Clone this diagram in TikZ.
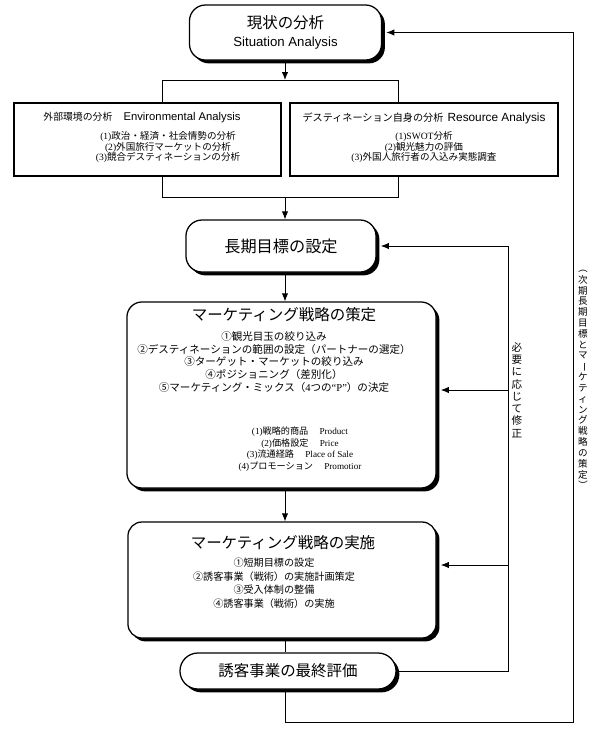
\documentclass[tikz,border=0pt]{standalone}
\usepackage{fontspec}
\setmainfont{Liberation Serif}
\setsansfont{Liberation Sans}
\newfontfamily\jp{Noto Sans CJK JP}
\usetikzlibrary{arrows.meta,shadows}

\newcommand{\fsz}[2]{\fontsize{#1}{#2}\selectfont}
\newcommand{\vrot}[1]{\rotatebox[origin=c]{-90}{#1}}

\begin{document}
\begin{tikzpicture}[
  x=0.025cm, y=-0.025cm,
  line width=0.6pt,
  stage/.style={rectangle,draw,line width=0.9pt,fill=white,font=\jp,align=center,
    drop shadow={shadow xshift=2.4pt,shadow yshift=-2.4pt,opacity=1,fill=black}},
  plainbox/.style={rectangle,draw,line width=0.8pt,fill=white},
  txt/.style={font=\jp,align=center,inner sep=0pt},
  arr/.style={-{Latex[length=2mm,width=1.6mm]}}
]
\useasboundingbox (0,0) rectangle (600,733);

% stages
\node[stage,rounded corners=0.4cm,minimum width=4.8cm,minimum height=1.375cm] (sit) at (285.5,32.5)
  {{\fsz{11}{12}現状の分析}\\[1pt]{\sffamily\fsz{9.4}{11}Situation Analysis}};
\node[plainbox,minimum width=6.675cm,minimum height=1.825cm] (envL) at (147.5,139.5) {};
\node[plainbox,minimum width=6.7cm,minimum height=1.825cm] (envR) at (424,139.5) {};
\node[stage,rounded corners=0.4cm,minimum width=4.75cm,minimum height=1.3cm] (goal) at (281,246)
  {\fsz{11.5}{13}長期目標の設定};
\node[stage,rounded corners=0.375cm,minimum width=7.725cm,minimum height=4.65cm] (plan) at (281.5,395) {};
\node[stage,rounded corners=0.35cm,minimum width=7.7cm,minimum height=2.9cm] (impl) at (282,580) {};
\node[stage,rounded corners=0.45cm,minimum width=5.4cm,minimum height=0.9cm] (eval) at (288,671)
  {\fsz{11}{12}誘客事業の最終評価};

% texts
\node[txt] (envLT) at (142,118) {{\fsz{7}{8}外部環境の分析}\hspace{8pt}{\sffamily\fsz{8}{9}Environmental Analysis}};
\node[txt,font=\jp\fsz{6.8}{7.4}] (envLA) at (168,147)
  {\textrm{(1)}政治・経済・社会情勢の分析\\\textrm{(2)}外国旅行マーケットの分析\\\textrm{(3)}競合デスティネーションの分析};
\node[txt] (envRT) at (424,118) {{\fsz{7.2}{8}デスティネーション自身の分析}\hspace{3pt}{\sffamily\fsz{8.4}{9}Resource Analysis}};
\node[txt,font=\jp\fsz{6.8}{7.4}] (envRA) at (424,147)
  {\textrm{(1)SWOT}分析\\\textrm{(2)}観光魅力の評価\\\textrm{(3)}外国人旅行者の入込み実態調査};

\node[txt,font=\jp\fsz{11}{13}] (planT) at (284,315) {マーケティング戦略の策定};
\node[txt,font=\jp\fsz{7.5}{9}] (planA) at (274,362)
  {①観光目玉の絞り込み\\②デスティネーションの範囲の設定（パートナーの選定）\\③ターゲット・マーケットの絞り込み\\
   ④ポジショニング（差別化）\\⑤マーケティング・ミックス（\textrm{4}つの\textrm{“P”}）の決定};
\node[txt,font=\jp\fsz{6.5}{8.3}] (planB) at (300,449)
  {\textrm{(1)}戦略的商品\hspace{8pt}\textrm{Product}\\\textrm{(2)}価格設定\hspace{8pt}\textrm{Price}\\
   \textrm{(3)}流通経路\hspace{8pt}\textrm{Place of Sale}\\\textrm{(4)}プロモーション\hspace{8pt}\textrm{Promotior}};

\node[txt,font=\jp\fsz{11}{13}] (implT) at (283,543) {マーケティング戦略の実施};
\node[txt,font=\jp\fsz{7.2}{9.6}] (implA) at (274,583)
  {①短期目標の設定\\②誘客事業（戦術）の実施計画策定\\③受入体制の整備\\④誘客事業（戦術）の実施};

\node[txt,font=\jp\fsz{7.5}{8.7}] (fixT) at (517,390) {必\\要\\に\\応\\じ\\て\\修\\正};
\node[txt,font=\jp\fsz{6.8}{7.7}] (nextT) at (583,377)
  {\vrot{（}\\次\\期\\長\\期\\目\\標\\と\\マ\\\vrot{ー}\\ケ\\テ\\ィ\\ン\\グ\\戦\\略\\の\\策\\定\\\vrot{）}};

% connectors
\coordinate (split) at (285,80);
\coordinate (splitL) at (162,80);
\coordinate (splitR) at (398,80);
\coordinate (join) at (285,197);
\coordinate (joinL) at (162,197);
\coordinate (joinR) at (398,197);
\coordinate (fixB) at (508,677);
\coordinate (fixP) at (508,390);
\coordinate (fixI) at (508,565);
\coordinate (nextB) at (573,722);

\draw[arr] (split |- sit.south) -- (split);
\draw (splitL |- envL.north) -- (splitL) -- (splitR) -- (splitR |- envR.north);
\draw (joinL |- envL.south) -- (joinL) -- (joinR) -- (joinR |- envR.south);
\draw[arr] (join) -- (join |- goal.north);
\draw[arr] (join |- goal.south) -- (join |- plan.north);
\draw[arr] (join |- plan.south) -- (join |- impl.north);
\draw (join |- impl.south) -- (join |- eval.north);
\draw[arr,shorten >=3pt] (eval.east) -- (eval.east -| fixB) |- (goal.east);
\draw[arr,shorten >=3pt] (fixP) -- (fixP -| plan.east);
\draw[arr,shorten >=3pt] (fixI) -- (fixI -| impl.east);
\draw[arr,shorten >=3pt] (join |- eval.south) |- (nextB) |- (sit.east);

\end{tikzpicture}
\end{document}
